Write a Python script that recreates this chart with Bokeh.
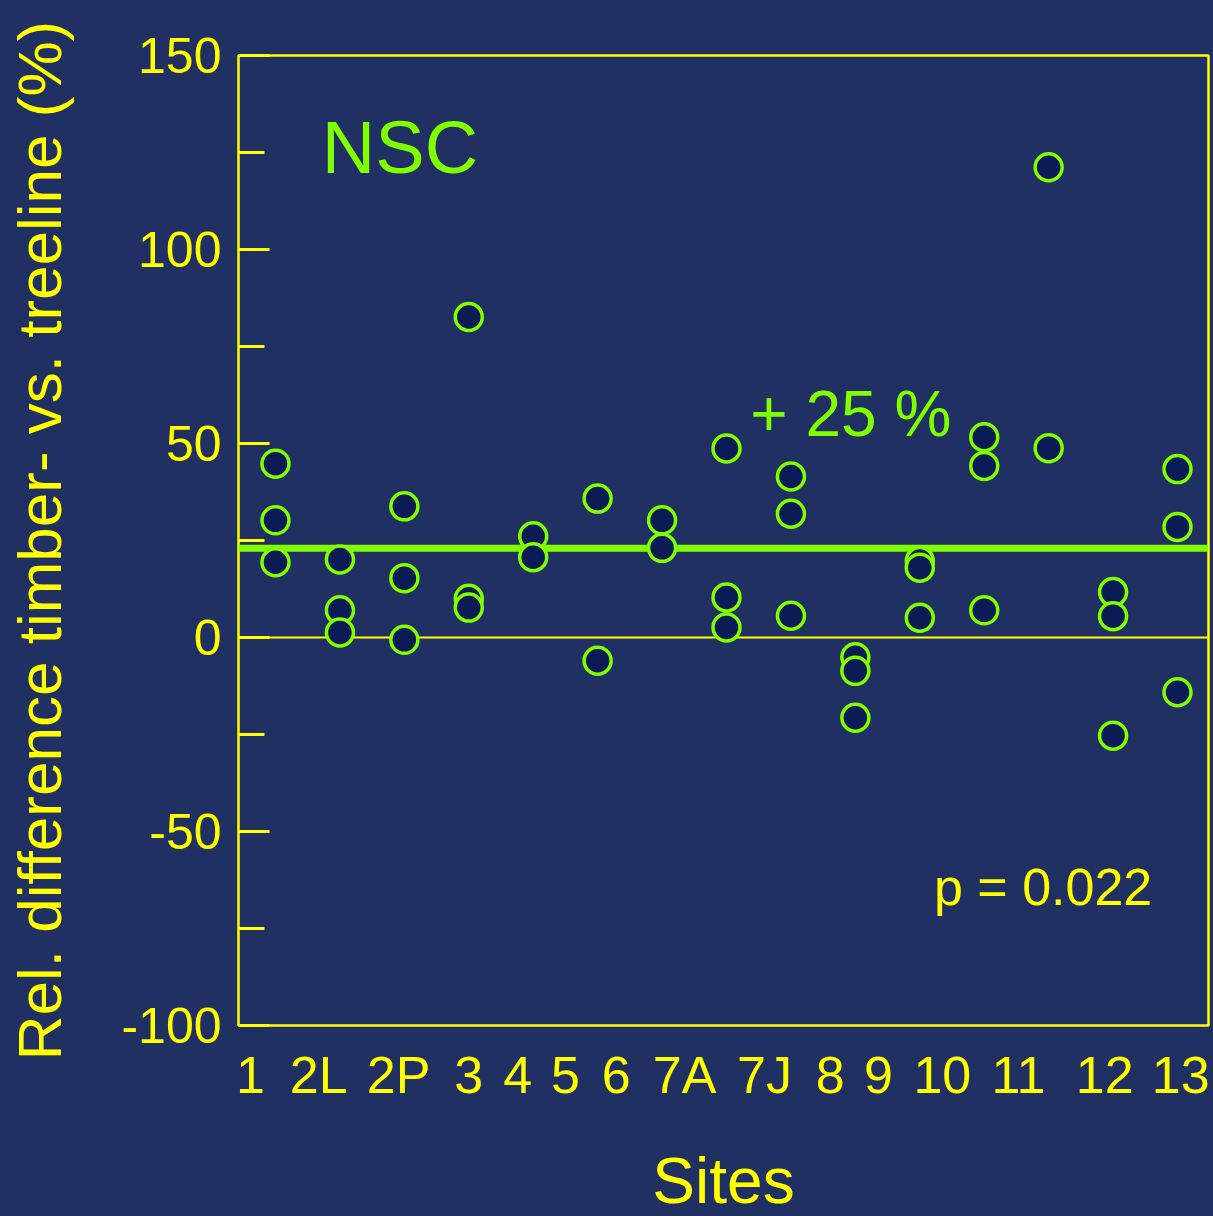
from bokeh.plotting import figure
from bokeh.models import FixedTicker, Span, Label, CustomJSTickFormatter, Range1d, ColumnDataSource
from bokeh.embed import file_html
from bokeh.resources import INLINE

# ---------------- data ----------------
sites = ["1", "2L", "2P", "3", "4", "5", "6", "7A", "7J", "8", "9", "10", "11", "12", "13"]
# where the site names sit along the x axis (as on the original slide)
site_label_pos = [0.61, 1.67, 2.91, 4.00, 4.76, 5.50, 6.29, 7.35, 8.59, 9.61, 10.36, 11.35, 12.53, 13.87, 15.05]

# site column (1..15) of every measurement
site_col = [1, 1, 1,
            2, 2, 2,
            3, 3, 3,
            4, 4, 4,
            5, 5,
            6, 6,
            7, 7,
            8, 8, 8,
            9, 9, 9,
            10, 10, 10,
            11, 11, 11,
            12, 12, 12,
            13, 13,
            14, 14, 14,
            15, 15, 15]
# relative difference timber- vs. treeline (%)
rel_diff = [44.8, 30.2, 19.4,
            20.1, 7.0, 1.3,
            33.8, 15.3, -0.6,
            82.6, 10.0, 7.7,
            26.1, 20.7,
            35.8, -6.0,
            30.2, 23.1,
            48.7, 10.3, 2.6,
            41.5, 31.9, 5.6,
            -5.1, -8.6, -20.7,
            19.7, 18.0, 5.1,
            51.6, 44.2, 7.0,
            121.2, 48.8,
            11.7, 5.5, -25.3,
            43.4, 28.5, -14.1]

mean_value = 23.0
y_major = [-100, -50, 0, 50, 100, 150]
y_minor = [-75, -25, 25, 75, 125]

# ---------------- style ----------------
BG = "#203062"
YELLOW = "#FFFF00"
GREEN = "#80FF00"
DOT_FILL = "#0B1B55"
FONT = "Liberation Sans"

p = figure(frame_width=970, frame_height=970,
           x_range=Range1d(0.426, 15.481), y_range=Range1d(-100, 150),
           output_backend="svg", toolbar_location=None)
p.min_border_left = 238
p.min_border_right = 5
p.min_border_top = 55
p.min_border_bottom = 191

p.background_fill_color = BG
p.border_fill_color = BG
p.outline_line_color = YELLOW
p.outline_line_width = 2.5
p.grid.visible = False

# y axis
ya = p.yaxis[0]
ya.ticker = FixedTicker(ticks=y_major, minor_ticks=y_minor)
ya.major_label_overrides = {v: str(v) for v in y_major}
ya.axis_line_color = None
ya.major_tick_line_color = YELLOW
ya.major_tick_line_width = 3
ya.major_tick_in = 31
ya.major_tick_out = 0
ya.minor_tick_line_color = YELLOW
ya.minor_tick_line_width = 3
ya.minor_tick_in = 26
ya.minor_tick_out = 0
ya.major_label_text_color = YELLOW
ya.major_label_text_font = FONT
ya.major_label_text_font_size = "50px"
ya.major_label_standoff = 17
ya.axis_label = "Rel. difference timber- vs. treeline (%)"
ya.axis_label_text_color = YELLOW
ya.axis_label_text_font = FONT
ya.axis_label_text_font_size = "62px"
ya.axis_label_text_font_style = "normal"
ya.axis_label_standoff = 44

# x axis
xa = p.xaxis[0]
xa.ticker = FixedTicker(ticks=site_label_pos)
xa.formatter = CustomJSTickFormatter(args=dict(names=sites), code="return names[index];")
xa.axis_line_color = None
xa.major_tick_line_color = None
xa.minor_tick_line_color = None
xa.major_tick_in = 0
xa.major_tick_out = 0
xa.major_label_text_color = YELLOW
xa.major_label_text_font = FONT
xa.major_label_text_font_size = "52px"
xa.major_label_standoff = 20
xa.axis_label = "Sites"
xa.axis_label_text_color = YELLOW
xa.axis_label_text_font = FONT
xa.axis_label_text_font_size = "64px"
xa.axis_label_text_font_style = "normal"
xa.axis_label_standoff = 38

# reference lines (below the markers)
p.add_layout(Span(location=0, dimension="width", line_color=YELLOW, line_width=2, level="underlay"))
p.add_layout(Span(location=mean_value, dimension="width", line_color=GREEN, line_width=7, level="underlay"))

src = ColumnDataSource(dict(x=site_col, y=rel_diff))
p.scatter("x", "y", source=src, size=27, marker="circle",
          fill_color=DOT_FILL, line_color=GREEN, line_width=3.5)

# annotations
p.add_layout(Label(x=1.72, y=126.3, text="NSC", text_color=GREEN, text_font=FONT,
                   text_font_size="74px", text_align="left", text_baseline="alphabetic"))
p.add_layout(Label(x=8.37, y=57.5, text="+ 25 %", text_color=GREEN, text_font=FONT,
                   text_font_size="64px", text_align="left", text_baseline="alphabetic"))
p.add_layout(Label(x=11.22, y=-64.4, text="p = 0.022", text_color=YELLOW, text_font=FONT,
                   text_font_size="52px", text_align="left", text_baseline="alphabetic"))

html = file_html(p, INLINE, title="NSC")
html = html.replace("</head>", "<style>html,body{background:%s;overflow:hidden;}</style></head>" % BG, 1)
open("out.html", "w").write(html)
